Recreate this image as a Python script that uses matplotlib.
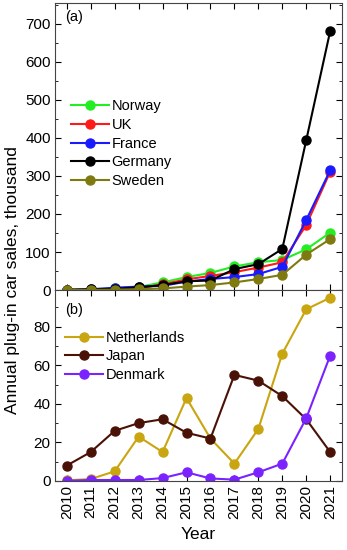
import matplotlib
matplotlib.use("Agg")
import matplotlib.pyplot as plt
from matplotlib.ticker import MultipleLocator

plt.rcParams['font.family'] = ['Liberation Sans', 'DejaVu Sans']

years = list(range(2010, 2022))

# panel (a), thousand units
norway = [0.4, 2, 4, 8, 20, 34, 45, 62, 73, 79, 107, 151]
uk = [0.1, 1, 2, 4, 15, 28, 37, 47, 59, 73, 171, 311]
france = [0.2, 2, 6, 9, 11, 22, 29, 34, 42, 61, 184, 315]
germany = [0.5, 2, 3, 7, 13, 23, 25, 55, 68, 108, 394, 681]
sweden = [0.0, 0.2, 1, 2, 4, 9, 13, 20, 29, 40, 93, 134]

# panel (b)
netherlands = [0.3, 1, 5, 23, 15, 43, 22, 9, 27, 66, 89, 95]
japan = [8, 15, 26, 30, 32, 25, 22, 55, 52, 44, 32, 15]
denmark = [0.1, 0.5, 0.5, 0.5, 1.5, 4.5, 1.3, 0.7, 4.5, 9, 32.5, 65]

series_a = [("Norway", norway, "#22ee22"), ("UK", uk, "#ff1a1a"),
            ("France", france, "#1a1aff"), ("Germany", germany, "#000000"),
            ("Sweden", sweden, "#7f7a10")]
series_b = [("Netherlands", netherlands, "#c9a510"), ("Japan", japan, "#4a1206"),
            ("Denmark", denmark, "#7a22ff")]

fig = plt.figure(figsize=(3.47, 5.5), dpi=100)
ax1 = fig.add_axes([0.158, 0.4727, 0.828, 0.5218])
ax2 = fig.add_axes([0.158, 0.1255, 0.828, 0.3472], sharex=ax1)

for name, vals, col in series_a:
    ax1.plot(years, vals, '-o', color=col, lw=1.5, ms=6.5, label=name)
for name, vals, col in series_b:
    ax2.plot(years, vals, '-o', color=col, lw=1.5, ms=6.5, label=name)

ax1.set_ylim(0, 755)
ax2.set_ylim(0, 99)
ax1.set_xlim(2009.5, 2021.5)
ax1.yaxis.set_major_locator(MultipleLocator(100))
ax1.yaxis.set_minor_locator(MultipleLocator(50))
ax2.yaxis.set_major_locator(MultipleLocator(20))
ax2.yaxis.set_minor_locator(MultipleLocator(10))
ax2.set_xticks(years)
ax2.set_xticklabels([str(y) for y in years], rotation=90)

for ax in (ax1, ax2):
    ax.tick_params(which='both', direction='in', top=True, right=True, labelsize=11)
    ax.tick_params(which='major', length=4, pad=3)
    ax.tick_params(which='minor', length=2)
    for sp in ax.spines.values():
        sp.set_color('#444444')
        sp.set_linewidth(0.8)
plt.setp(ax1.get_xticklabels(), visible=False)

ax1.text(0.035, 0.975, "(a)", transform=ax1.transAxes, fontsize=10.5, va='top')
ax2.text(0.035, 0.93, "(b)", transform=ax2.transAxes, fontsize=10.5, va='top')

ax1.legend(loc='upper left', bbox_to_anchor=(0.02, 0.70), frameon=False,
           fontsize=10.5, handlelength=2.6, handletextpad=0.2, labelspacing=0.32,
           borderaxespad=0.3)
ax2.legend(loc='upper left', bbox_to_anchor=(0.0, 0.84), frameon=False,
           fontsize=10.5, handlelength=2.6, handletextpad=0.2, labelspacing=0.32,
           borderaxespad=0.3)

ax2.set_xlabel("Year", fontsize=12.5, labelpad=6)
fig.text(0.035, 0.491, "Annual plug-in car sales, thousand", rotation=90,
         fontsize=12.5, ha='center', va='center')

fig.savefig("out.png", dpi=100)
